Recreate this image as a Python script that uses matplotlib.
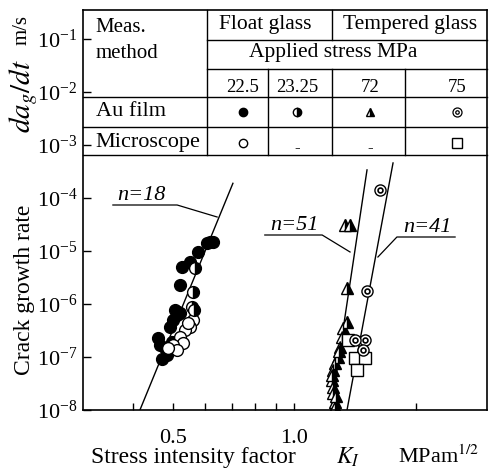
import numpy as np
import matplotlib
matplotlib.use('Agg')
import matplotlib.pyplot as plt
from matplotlib.ticker import FixedLocator, NullLocator, FixedFormatter, LogFormatterSciNotation

plt.rcParams['font.family'] = ['Liberation Serif', 'DejaVu Serif']
plt.rcParams['mathtext.fontset'] = 'stix'
plt.rcParams['axes.unicode_minus'] = False

# float glass, 22.5 MPa, Au film (filled circles)
k_float_au = [0.608, 0.619, 0.629, 0.578, 0.552, 0.527, 0.521, 0.516, 0.507, 0.521,
              0.513, 0.501, 0.493, 0.498, 0.460, 0.465, 0.479, 0.484, 0.470]
v_float_au = [1.4e-5, 1.5e-5, 1.5e-5, 9.6e-6, 6.2e-6, 5.0e-6, 2.3e-6, 7.1e-7, 7.7e-7, 6.7e-7,
              6.2e-7, 5.0e-7, 3.7e-7, 1.9e-7, 2.3e-7, 1.7e-7, 1.5e-7, 1.1e-7, 9.0e-8]
# float glass, 23.25 MPa, Au film (half filled circles)
k_float_au2 = [0.568, 0.561, 0.558, 0.566]
v_float_au2 = [4.8e-6, 1.7e-6, 8.8e-7, 7.7e-7]
# float glass, 22.5 MPa, microscope (open circles)
k_float_mic = [0.561, 0.552, 0.536, 0.521, 0.530, 0.501, 0.513, 0.487, 0.545]
v_float_mic = [5.0e-7, 3.7e-7, 3.2e-7, 2.4e-7, 1.8e-7, 1.7e-7, 1.36e-7, 1.48e-7, 4.3e-7]
# tempered glass, 72 MPa, Au film (half filled triangles)
k_temp_72 = [1.336, 1.374, 1.351, 1.351, 1.320, 1.313, 1.298, 1.283, 1.261, 1.247,
             1.240, 1.247, 1.247, 1.261, 1.261, 1.290, 1.240, 1.270]
v_temp_72 = [3.1e-5, 3.1e-5, 2.0e-6, 4.6e-7, 3.5e-7, 2.4e-7, 1.55e-7, 1.0e-7, 7.7e-8, 5.7e-8,
             3.7e-8, 2.7e-8, 2.1e-8, 1.4e-8, 1.14e-8, 1.3e-7, 4.5e-8, 1.8e-8]
# tempered glass, 75 MPa, Au film (double circles)
k_temp_75 = [1.631, 1.514, 1.497, 1.414, 1.480]
v_temp_75 = [1.42e-4, 1.8e-6, 2.1e-7, 2.1e-7, 1.36e-7]
# tempered glass, 75 MPa, microscope (open squares)
k_temp_mic = [1.359, 1.414, 1.497, 1.430]
v_temp_mic = [2.1e-7, 9.6e-8, 9.6e-8, 5.7e-8]

# fitted lines (end points)
fit18_k, fit18_v = [0.415, 0.705], [1e-8, 1.9e-4]
fit51_k, fit51_v = [1.233, 1.514], [1e-8, 3.4e-4]
fit41_k, fit41_v = [1.351, 1.756], [1e-8, 4.6e-4]

xticks = [0.4, 0.5, 0.6, 0.7, 0.8, 0.9, 1.0, 2.0]
xticklabels = ['', '0.5', '', '', '', '', '1.0', '']
yticks = [1e-8, 1e-7, 1e-6, 1e-5, 1e-4, 1e-3, 1e-2, 1e-1]

fig = plt.figure(figsize=(4.97, 4.71), dpi=100)
ax = fig.add_axes([83 / 497, 61 / 471, 404 / 497, 400 / 471])
ax.set_xscale('log')
ax.set_yscale('log')
ax.set_xlim(0.3, 3.0)
ax.set_ylim(1e-8, 10 ** -0.45)

ax.xaxis.set_major_locator(FixedLocator(xticks))
ax.xaxis.set_major_formatter(FixedFormatter(xticklabels))
ax.xaxis.set_minor_locator(NullLocator())
ax.yaxis.set_major_locator(FixedLocator(yticks))
ax.yaxis.set_major_formatter(LogFormatterSciNotation())
ax.yaxis.set_minor_locator(NullLocator())
ax.tick_params(axis='x', direction='in', length=5, width=1, pad=14, labelsize=16, top=False)
ax.tick_params(axis='y', direction='in', length=6, width=1, pad=4, labelsize=16, right=False)
for s in ax.spines.values():
    s.set_linewidth(1.2)

lw = 1.0
ax.plot(fit18_k, fit18_v, color='black', lw=lw)
ax.plot(fit51_k, fit51_v, color='black', lw=lw)
ax.plot(fit41_k, fit41_v, color='black', lw=lw)

ms = 8.5
ax.plot(k_float_au, v_float_au, 'o', ms=ms, mfc='black', mec='black', mew=1)
ax.plot(k_float_mic, v_float_mic, 'o', ms=ms, mfc='white', mec='black', mew=1)
ax.plot(k_float_au2, v_float_au2, 'o', ms=ms, fillstyle='right', mfc='black',
        markerfacecoloralt='white', mec='black', mew=1)
ax.plot(k_temp_72, v_temp_72, '^', ms=8, fillstyle='right', mfc='black',
        markerfacecoloralt='white', mec='black', mew=1)
ax.plot(k_temp_mic, v_temp_mic, 's', ms=8, mfc='white', mec='black', mew=1)
ax.plot(k_temp_75, v_temp_75, 'o', ms=8, mfc='white', mec='black', mew=1)
ax.plot(k_temp_75, v_temp_75, 'o', ms=3.5, mfc='white', mec='black', mew=1.2)

# leaders for slope labels
T = ax.transAxes
ax.plot([0.074, 0.233, 0.332], [0.5125, 0.5125, 0.4825], color='black', lw=0.9, transform=T)
ax.text(0.084, 0.524, 'n=18', transform=T, fontsize=16, style='italic', va='baseline')
ax.plot([0.450, 0.592, 0.661], [0.4375, 0.4375, 0.395], color='black', lw=0.9, transform=T)
ax.text(0.463, 0.45, 'n=51', transform=T, fontsize=16, style='italic', va='baseline')
ax.plot([0.921, 0.777, 0.730], [0.4325, 0.4325, 0.3825], color='black', lw=0.9, transform=T)
ax.text(0.792, 0.445, 'n=41', transform=T, fontsize=16, style='italic', va='baseline')

# table at the top of the plot
tl = dict(color='black', lw=1.0, transform=T, clip_on=False)
c1, c2, c3, c4 = 0.307, 0.458, 0.616, 0.797
r1, r2, r3, r4, r5 = 0.925, 0.8525, 0.7825, 0.7075, 0.6375
ax.plot([c1, 1], [r1, r1], **tl)
ax.plot([c1, 1], [r2, r2], **tl)
for r in (r3, r4, r5):
    ax.plot([0, 1], [r, r], **tl)
ax.plot([c1, c1], [r5, 1], **tl)
ax.plot([c3, c3], [r1, 1], **tl)
ax.plot([c3, c3], [r5, r2], **tl)
ax.plot([c2, c2], [r5, r2], **tl)
ax.plot([c4, c4], [r5, r2], **tl)

ax.text(0.03, 0.955, 'Meas.', transform=T, fontsize=15, va='center')
ax.text(0.03, 0.8925, 'method', transform=T, fontsize=15, va='center')
ax.text(0.450, 0.9625, 'Float glass', transform=T, fontsize=15.5, ha='center', va='center')
ax.text(0.809, 0.9625, 'Tempered glass', transform=T, fontsize=15.5, ha='center', va='center')
ax.text(0.619, 0.8925, 'Applied stress MPa', transform=T, fontsize=15.5, ha='center', va='center')
cx = [0.396, 0.530, 0.710, 0.926]
for x, s in zip(cx, ['22.5', '23.25', '72', '75']):
    ax.text(x, 0.805, s, transform=T, fontsize=13.5, ha='center', va='center')
ax.text(0.12, 0.745, 'Au film', transform=T, fontsize=16, ha='center', va='center')
ax.text(0.03, 0.6675, 'Microscope', transform=T, fontsize=16, ha='left', va='center')

mk = dict(transform=T, clip_on=False, color='black')
ax.plot(cx[0], 0.745, 'o', ms=6, mfc='black', mec='black', **mk)
ax.plot(cx[1], 0.745, 'o', ms=6, fillstyle='right', mfc='black', markerfacecoloralt='white', mec='black', **mk)
ax.plot(cx[2], 0.745, '^', ms=6, fillstyle='right', mfc='black', markerfacecoloralt='white', mec='black', **mk)
ax.plot(cx[3], 0.745, 'o', ms=6.5, mfc='white', mec='black', mew=0.9, **mk)
ax.plot(cx[3], 0.745, 'o', ms=2.5, mfc='white', mec='black', mew=0.9, **mk)
ax.plot(cx[0], 0.6675, 'o', ms=6, mfc='white', mec='black', mew=1, **mk)
ax.text(cx[1], 0.655, '-', transform=T, fontsize=12, ha='center', va='center')
ax.text(cx[2], 0.655, '-', transform=T, fontsize=12, ha='center', va='center')
ax.plot(cx[3], 0.6675, 's', ms=6.5, mfc='white', mec='black', mew=1, **mk)

# axis labels
ax.text(-0.144, 0.30, 'Crack growth rate', transform=T, fontsize=17, rotation=90,
        ha='center', va='center')
ax.text(-0.146, 0.785, r'$da_g/dt$', transform=T, fontsize=21, rotation=90,
        ha='center', va='center')
ax.text(-0.150, 0.95, 'm/s', transform=T, fontsize=15, rotation=90,
        ha='center', va='center')
ax.text(0.02, -0.1175, 'Stress intensity factor', transform=T, fontsize=17,
        ha='left', va='center')
ax.text(0.655, -0.1175, r'$K_I$', transform=T, fontsize=17, ha='center', va='center')
ax.text(0.78, -0.1175, r'MPam$^{1/2}$', transform=T, fontsize=16, ha='left', va='center')

fig.savefig('out.png', dpi=100)
